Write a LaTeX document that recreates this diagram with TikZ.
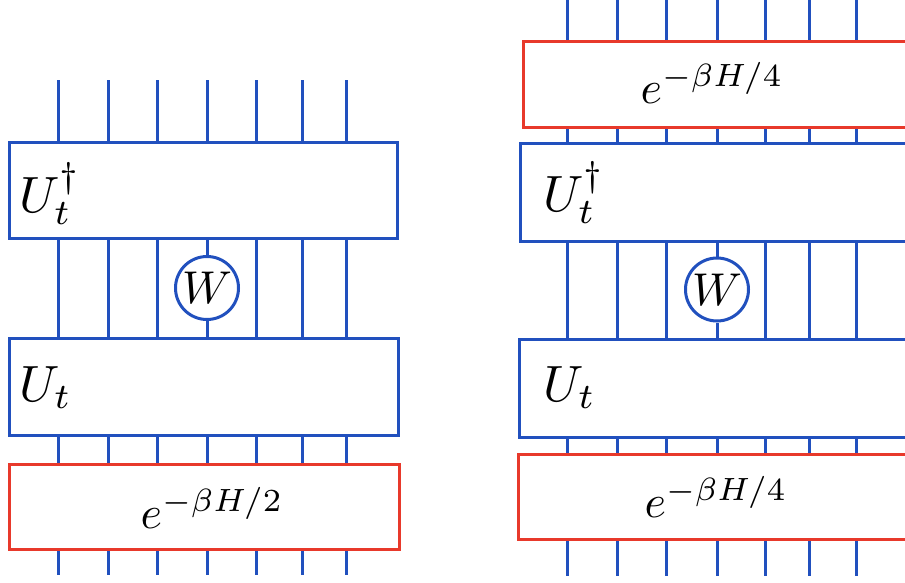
\documentclass[tikz,border=0pt]{standalone}
\usepackage{graphicx}
\definecolor{wireblue}{RGB}{33,80,190}
\definecolor{boxred}{RGB}{232,57,43}
\newcommand{\bigmath}[2]{\scalebox{#1}{$#2$}}
\tikzset{
  legline/.style={draw=wireblue, line width=3pt},
  opbox/.style={rectangle, draw=wireblue, line width=3pt, inner sep=0pt,
    anchor=north west, fill=white},
  thermbox/.style={opbox, draw=boxred},
  gate/.style={circle, draw=wireblue, line width=3pt, fill=white,
    minimum size=63pt, inner sep=0pt},
  oplabel/.style={inner sep=0pt, anchor=base west},
  explabel/.style={inner sep=0pt, anchor=base}
}
\begin{document}
\begin{tikzpicture}[x=1pt, y=-1pt]
\useasboundingbox (0,0) rectangle (905,582);
\clip (0,0) rectangle (905,582);

% ---------- left circuit: U_t^dagger W U_t e^{-beta H/2} ----------
\foreach \i/\x in {1/58,2/108,3/157,4/207,5/256,6/302,7/346}
  \coordinate (L\i) at (\x,0);
\coordinate (LtopEnd) at (0,80);
\coordinate (LbotEnd) at (0,575);

\node[opbox, minimum width=388pt, minimum height=96pt] (LUd) at (8,141) {};
\node[opbox, minimum width=389pt, minimum height=97pt] (LU) at (8,337) {};
\node[thermbox, minimum width=390pt, minimum height=85pt] (LE) at (8,463) {};
\node[gate] (LW) at (207,288) {\bigmath{4.6}{W}};

\foreach \i in {1,...,7} {
  \path[legline] (L\i |- LtopEnd) -- (L\i |- LUd.north);
  \path[legline] (L\i |- LU.south) -- (L\i |- LE.north);
  \path[legline] (L\i |- LE.south) -- (L\i |- LbotEnd);
}
\foreach \i in {1,2,3,5,6,7}
  \path[legline] (L\i |- LUd.south) -- (L\i |- LU.north);
\path[legline] (L4 |- LUd.south) -- (LW.north);
\path[legline] (LW.south) -- (L4 |- LU.north);

\node[oplabel] (LUdlab) at (19,212) {\bigmath{5.1}{U_t^\dagger}};
\node[oplabel] (LUlab) at (19,401) {\bigmath{5.1}{U_t}};
\node[explabel] (LElab) at (212,528) {\bigmath{4.6}{e^{-\beta H/2}}};

% ---------- right circuit: e^{-beta H/4} U_t^dagger W U_t e^{-beta H/4} ----------
\foreach \i/\x in {1/567,2/617,3/666,4/717,5/765,6/809,7/856}
  \coordinate (R\i) at (\x,0);
\coordinate (RtopEnd) at (0,-5);
\coordinate (RbotEnd) at (0,576);

\node[thermbox, minimum width=420pt, minimum height=86pt] (RE1) at (522,40) {};
\node[opbox, minimum width=420pt, minimum height=98pt] (RUd) at (519,142) {};
\node[opbox, minimum width=420pt, minimum height=98pt] (RU) at (518,338) {};
\node[thermbox, minimum width=420pt, minimum height=85pt] (RE2) at (517,453) {};
\node[gate] (RW) at (717,289.5) {\bigmath{4.6}{W}};

\foreach \i in {1,...,7} {
  \path[legline] (R\i |- RtopEnd) -- (R\i |- RE1.north);
  \path[legline] (R\i |- RE1.south) -- (R\i |- RUd.north);
  \path[legline] (R\i |- RU.south) -- (R\i |- RE2.north);
  \path[legline] (R\i |- RE2.south) -- (R\i |- RbotEnd);
}
\foreach \i in {1,2,3,5,6,7}
  \path[legline] (R\i |- RUd.south) -- (R\i |- RU.north);
\path[legline] (R4 |- RUd.south) -- (RW.north);
\path[legline] (RW.south) -- (R4 |- RU.north);

\node[explabel] (RE1lab) at (712,103) {\bigmath{4.6}{e^{-\beta H/4}}};
\node[oplabel] (RUdlab) at (543,211) {\bigmath{5.1}{U_t^\dagger}};
\node[oplabel] (RUlab) at (543,401) {\bigmath{5.1}{U_t}};
\node[explabel] (RE2lab) at (716,517) {\bigmath{4.6}{e^{-\beta H/4}}};
\end{tikzpicture}
\end{document}
